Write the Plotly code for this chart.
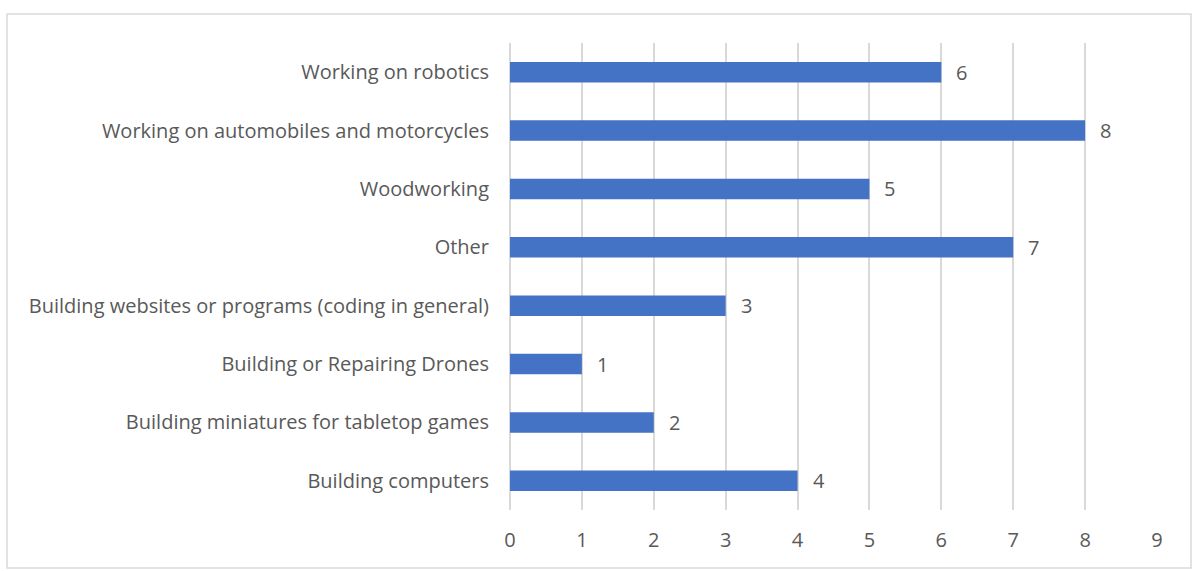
import plotly.graph_objects as go

categories = [
    "Building computers",
    "Building miniatures for tabletop games",
    "Building or Repairing Drones",
    "Building websites or programs (coding in general)",
    "Other",
    "Woodworking",
    "Working on automobiles and motorcycles",
    "Working on robotics",
]
values = [4, 2, 1, 3, 7, 5, 8, 6]
x_ticks = list(range(0, 10))

W, H = 1193, 571
ml, mr, mt, mb = 510, 36, 43, 61
pw, ph = W - ml - mr, H - mt - mb

font_family = "'Open Sans', 'Noto Sans', sans-serif"
font_size = 20
text_color = "#595959"
grid_color = "#d9d9d9"

fig = go.Figure(
    go.Bar(
        x=values,
        y=categories,
        orientation="h",
        marker=dict(color="#4472C4", line=dict(width=0)),
        width=0.35,
        hoverinfo="skip",
    )
)

# value labels to the right of each bar
for c, v in zip(categories, values):
    fig.add_annotation(
        x=v, y=c, text=str(v), showarrow=False,
        xanchor="left", xshift=13,
        font=dict(family=font_family, size=font_size, color=text_color),
    )

# light chart border
fig.add_shape(
    type="rect", xref="paper", yref="paper",
    x0=(7 - ml) / pw, x1=(1191 - ml) / pw,
    y0=(H - mb - 568) / ph, y1=(H - mb - 14) / ph,
    line=dict(color=grid_color, width=1.5),
    fillcolor="rgba(0,0,0,0)",
    layer="below",
)

fig.update_layout(
    width=W, height=H,
    margin=dict(l=ml, r=mr, t=mt, b=mb),
    paper_bgcolor="white", plot_bgcolor="white",
    showlegend=False,
    font=dict(family=font_family, size=font_size, color=text_color),
    xaxis=dict(
        range=[0, 9], tickvals=x_ticks, ticktext=[str(t) for t in x_ticks],
        showgrid=True, gridcolor=grid_color, gridwidth=2,
        zeroline=True, zerolinecolor=grid_color, zerolinewidth=2,
        showline=False, ticks="",
        ticklabelstandoff=16,
        tickfont=dict(size=font_size, color=text_color),
        fixedrange=True,
    ),
    yaxis=dict(
        categoryorder="array", categoryarray=categories,
        range=[-0.5, len(categories) - 0.5],
        showgrid=False, zeroline=False, showline=False, ticks="",
        ticklabelstandoff=20,
        tickfont=dict(size=font_size, color=text_color),
        fixedrange=True,
    ),
)

fig.write_html("out.html")
